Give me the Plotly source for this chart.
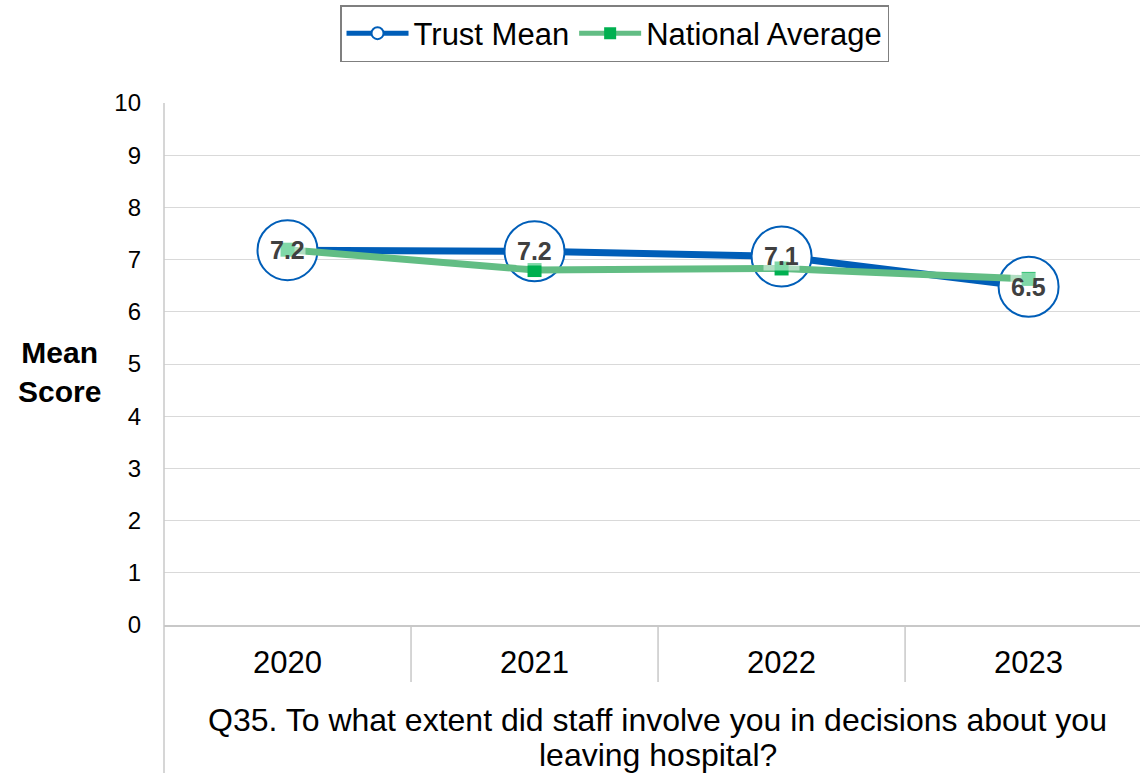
import plotly.graph_objects as go

years = ["2020", "2021", "2022", "2023"]
trust_mean = [7.18, 7.16, 7.06, 6.48]
national_avg = [7.19, 6.80, 6.83, 6.63]
trust_labels = ["7.2", "7.2", "7.1", "6.5"]
y_ticks = list(range(0, 11))
x_title_lines = ["Q35. To what extent did staff involve you in decisions about you",
                 "leaving hospital?"]

FONT = "Liberation Sans, Arial, sans-serif"
BLUE = "#005EB8"
GREEN_LINE = "#62BD84"
GREEN_MARK = "#00B050"

fig = go.Figure()
fig.add_trace(go.Scatter(
    x=years, y=trust_mean, name="Trust Mean", mode="lines+markers",
    line=dict(color=BLUE, width=7),
    marker=dict(symbol="circle", size=60, color="white", line=dict(color=BLUE, width=2)),
))
fig.add_trace(go.Scatter(
    x=years, y=national_avg, name="National Average", mode="lines+markers",
    line=dict(color=GREEN_LINE, width=7),
    marker=dict(symbol="square", size=14, color=GREEN_MARK),
))
for i, (v, lab) in enumerate(zip(trust_mean, trust_labels)):
    fig.add_annotation(x=i, y=v, text="<b>%s</b>" % lab, showarrow=False,
                       bgcolor="rgba(255,255,255,0.5)", borderpad=0,
                       font=dict(family=FONT, size=25, color="#404040"))

# category dividers below the axis
for i in range(1, len(years)):
    fig.add_shape(type="line", xref="x", yref="paper", x0=i - 0.5, x1=i - 0.5,
                  y0=0, y1=-0.109, line=dict(color="#C8C8C8", width=1.5))
# left border extending down
fig.add_shape(type="line", xref="paper", yref="paper", x0=0, x1=0, y0=1, y1=-0.30,
              line=dict(color="#C8C8C8", width=1.5))

fig.add_annotation(xref="paper", yref="paper", x=-0.1066, y=0.4847,
                   xanchor="center", yanchor="middle",
                   text="<b>Mean<br>Score</b>", showarrow=False,
                   font=dict(family=FONT, size=30, color="black"), align="center")
for line_text, ypos in zip(x_title_lines, [-0.182, -0.249]):
    fig.add_annotation(xref="paper", yref="paper", x=0.506, y=ypos,
                       xanchor="center", yanchor="middle",
                       text=line_text, showarrow=False,
                       font=dict(family=FONT, size=32, color="black"))

fig.update_layout(
    width=1140, height=773,
    margin=dict(l=164, r=0, t=103, b=148),
    plot_bgcolor="white", paper_bgcolor="white",
    font=dict(family=FONT, color="black"),
    showlegend=True,
    legend=dict(orientation="h", x=0.4616, y=1.1877, xanchor="center", yanchor="top",
                bordercolor="#7F7F7F", borderwidth=1.5, font=dict(size=31, family=FONT),
                itemsizing="constant", itemwidth=62, tracegroupgap=0),
    xaxis=dict(type="category", range=[-0.5, 3.451], showgrid=False, ticks="",
               showline=True, linecolor="#C8C8C8", linewidth=1.5,
               tickfont=dict(size=31, family=FONT), ticklabelstandoff=9),
    yaxis=dict(range=[0, 10], tickvals=y_ticks, showgrid=True, gridcolor="#D9D9D9",
               gridwidth=1, zeroline=False, showline=False, ticks="",
               tickfont=dict(size=24, family=FONT), ticklabelstandoff=22),
)

fig.write_html("out.html", config={"displayModeBar": False},
               post_script="document.body.style.margin='0';")
